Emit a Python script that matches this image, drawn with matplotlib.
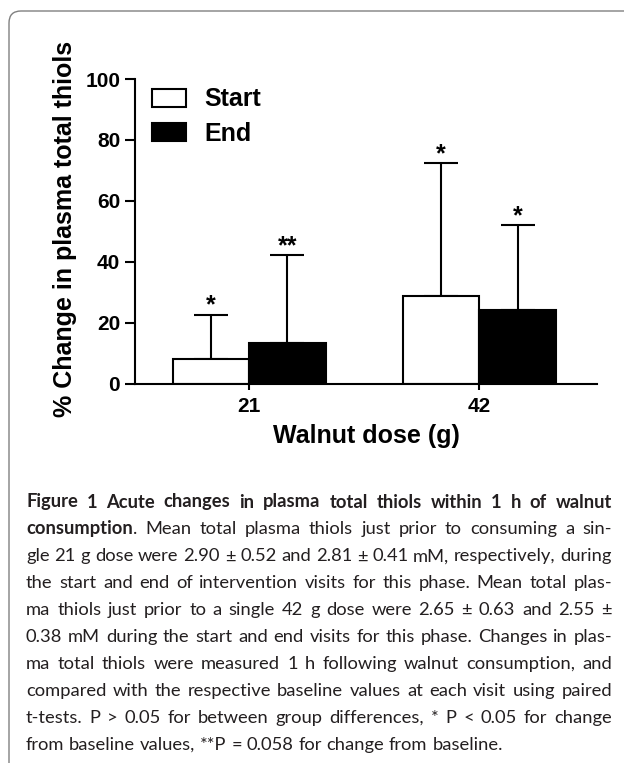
import numpy as np
import matplotlib
matplotlib.use('Agg')
import matplotlib.pyplot as plt
from matplotlib.patches import FancyBboxPatch
from matplotlib.font_manager import FontProperties


doses = ['21', '42']
start_mean = [8.1, 28.7]
start_err = [14.5, 43.6]
end_mean = [13.4, 24.3]
end_err = [28.7, 27.7]
start_sig = ['*', '*']
end_sig = ['**', '*']
y_ticks = [0, 20, 40, 60, 80, 100]

caption = [
    [("Figure 1  Acute changes in plasma total thiols within 1 h of walnut", True)],
    [("consumption", True), (". Mean total plasma thiols just prior to consuming a sin-", False)],
    [("gle 21 g dose were 2.90 \u00b1 0.52 and 2.81 \u00b1 0.41 mM, respectively, during", False)],
    [("the start and end of intervention visits for this phase. Mean total plas-", False)],
    [("ma thiols just prior to a single 42 g dose were 2.65 \u00b1 0.63 and 2.55 \u00b1", False)],
    [("0.38 mM during the start and end visits for this phase. Changes in plas-", False)],
    [("ma total thiols were measured 1 h following walnut consumption, and", False)],
    [("compared with the respective baseline values at each visit using paired", False)],
    [("t-tests. P > 0.05 for between group differences, * P < 0.05 for change", False)],
    [("from baseline values, **P = 0.058 for change from baseline.", False)],
]

plt.rcParams['font.family'] = ['Liberation Sans', 'DejaVu Sans']
plt.rcParams['font.weight'] = 'bold'

W, H = 624, 763
fig = plt.figure(figsize=(W / 100, H / 100), dpi=100)
ax = fig.add_axes([135 / W, 1 - 383.5 / H, 462 / W, 304.5 / H])

x = np.arange(len(doses))
w = 0.332
ax.bar(x - w / 2, start_mean, w, color='white', edgecolor='black', linewidth=1.5, label='Start', zorder=2)
ax.bar(x + w / 2, end_mean, w, color='black', edgecolor='black', linewidth=1.5, label='End', zorder=2)
ax.errorbar(x - w / 2, start_mean, yerr=[np.zeros(2), start_err], fmt='none', ecolor='black',
            elinewidth=1.5, capsize=12, capthick=1.5, zorder=1)
ax.errorbar(x + w / 2, end_mean, yerr=[np.zeros(2), end_err], fmt='none', ecolor='black',
            elinewidth=1.5, capsize=12, capthick=1.5, zorder=1)

for xs, m, e, s in zip(x - w / 2, start_mean, start_err, start_sig):
    ax.annotate(s, (xs, m + e), xytext=(0, 1.5), textcoords='offset points',
                ha='center', va='baseline', fontsize=18, fontweight='bold', annotation_clip=False)
for xs, m, e, s in zip(x + w / 2, end_mean, end_err, end_sig):
    ax.annotate(s, (xs, m + e), xytext=(0, 1.5), textcoords='offset points',
                ha='center', va='baseline', fontsize=18, fontweight='bold', annotation_clip=False)

ax.set_xlim(-0.495, 1.51)
ax.set_ylim(0, 100)
ax.set_xticks(x)
ax.set_xticklabels(doses)
ax.set_yticks(y_ticks)
ax.tick_params(axis='y', length=7.2, width=1.5, pad=3.5, labelsize=15)
ax.tick_params(axis='x', length=4.5, width=1.5, pad=5, labelsize=15)
for sp in ['top', 'right']:
    ax.spines[sp].set_visible(False)
for sp in ['left', 'bottom']:
    ax.spines[sp].set_linewidth(1.5)

ax.set_ylabel('% Change in plasma total thiols', fontsize=18, fontweight='bold')
ax.yaxis.set_label_coords(-0.1255, 0.507)
ax.set_xlabel('Walnut dose (g)', fontsize=18, fontweight='bold')
ax.xaxis.set_label_coords(0.5, -0.133)

ax.legend(loc='upper left', bbox_to_anchor=(152 / W, 1 - 87.5 / H), bbox_transform=fig.transFigure,
          frameon=False, handlelength=1.36, handleheight=0.72, handletextpad=0.74,
          labelspacing=0.41, borderpad=0, borderaxespad=0, prop={'weight': 'bold', 'size': 18})

# rounded frame around the figure
frame = FancyBboxPatch((0.09, -1.0), 10, 7.52 + 1.0, boxstyle='round,pad=0,rounding_size=0.12',
                       transform=fig.dpi_scale_trans, fill=False, edgecolor='#808080', linewidth=1.0)
fig.add_artist(frame)

# caption, justified line by line
renderer = fig.canvas.get_renderer()
cap_family = ['Lato', 'DejaVu Sans']


def fprop(bold, size):
    return FontProperties(family=cap_family, weight='bold' if bold else 'normal', size=size)


def text_w(s, bold, size):
    wd, _, _ = renderer.get_text_width_height_descent(s, fprop(bold, size), ismath=False)
    return wd


def words_of(segments):
    words = []
    glue = False
    for text, bold in segments:
        parts = text.split(' ')
        for i, p in enumerate(parts):
            if i == 0 and glue and words and p:
                words[-1].append((p, bold))
            elif p:
                words.append([(p, bold)])
        glue = not text.endswith(' ')
    return words


def natural_width(line, size):
    ws = words_of(line)
    sp = text_w('a a', False, size) - text_w('aa', False, size)
    return sum(text_w(t, b, size) for wd in ws for t, b in wd) + sp * (len(ws) - 1)


left, right = 26, 612
base = 10.0
# size fitted on the regular lines; the bold title line gets its own fit if it is wider
cap_size = base * (right - left) / max(natural_width(l, base) for l in caption[2:-1]) * 0.995
title_size = min(cap_size, base * (right - left) / natural_width(caption[0], base) * 0.99)
space = text_w('a a', False, cap_size) - text_w('aa', False, cap_size)

y0, dy = 507.5, 26.9
for i, line in enumerate(caption):
    size = title_size if i == 0 else cap_size
    ws = words_of(line)
    widths = [[text_w(t, b, size) for t, b in wd] for wd in ws]
    total = sum(sum(ww) for ww in widths)
    if i < len(caption) - 1 and len(ws) > 1:
        gap = (right - left - total) / (len(ws) - 1)
    else:
        gap = space
    xp = left
    yb = 1 - (y0 + i * dy) / H
    for wd, ww in zip(ws, widths):
        for (t, b), tw in zip(wd, ww):
            fig.text(xp / W, yb, t, fontproperties=fprop(b, size), ha='left', va='baseline',
                     color='#231f20')
            xp += tw
        xp += gap

fig.savefig('out.png', dpi=100)
